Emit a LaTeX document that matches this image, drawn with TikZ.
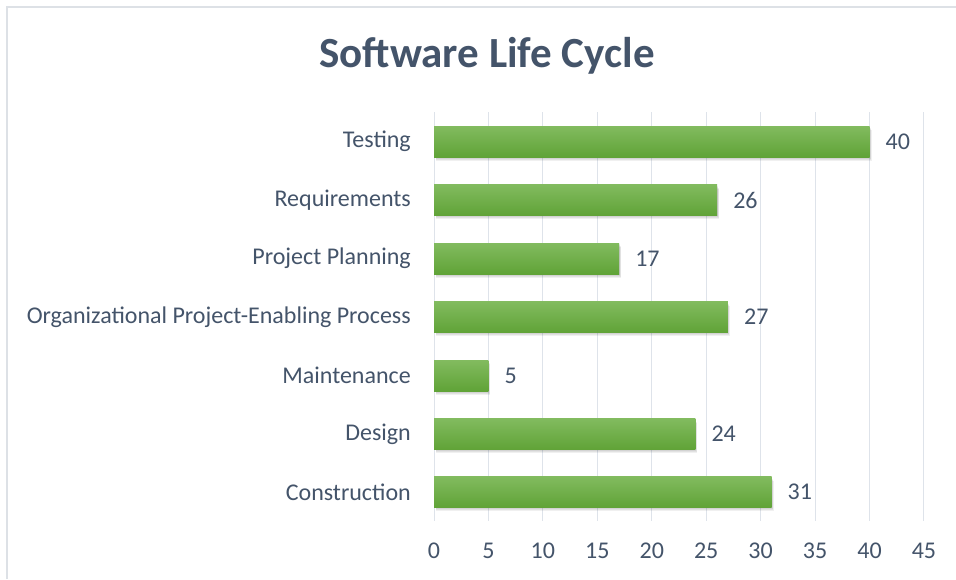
\documentclass[tikz,border=0pt]{standalone}
\usepackage{fontspec}
\setmainfont{Carlito}
\begin{document}
\begin{tikzpicture}[x=1pt,y=-1pt,
  txt/.style={text=textc, font=\fontsize{24}{26}\selectfont, inner sep=0pt},
  grid/.style={draw=gridc, line width=1pt},
  bar/.style={top color=bartop, bottom color=barbot, draw=none},
  shade/.style={fill=black, opacity=0.06}]
\definecolor{textc}{HTML}{44546A}
\definecolor{gridc}{HTML}{DEE3EA}
\definecolor{bartop}{HTML}{82BB5F}
\definecolor{barbot}{HTML}{60A337}
\definecolor{framec}{HTML}{DDE1E6}
\useasboundingbox (0,0) rectangle (956,579);
\fill[white] (0,0) rectangle (956,579);
\draw[framec, line width=1.5pt] (7,579) -- (7,7) -- (956,7);
\node[text=textc, font=\bfseries\fontsize{43}{45}\selectfont, inner sep=0pt] (title) at (487,56) {Software Life Cycle};
% gridlines and ticks
\foreach \v [count=\i] in {0,5,...,45} {
  \draw[grid] ({434+\v*10.888},112) -- ({434+\v*10.888},521);
  \node[txt] (tick\i) at ({434+\v*10.888},551) {\v};
}
% bars
\foreach \lab/\val/\cy [count=\i] in {Testing/40/141.5, Requirements/26/200, Project Planning/17/258.5, Organizational Project-Enabling Process/27/317, Maintenance/5/375.5, Design/24/434, Construction/31/492} {
  \foreach \d in {1,2,3,4} {
    \fill[shade] ({435+\d*0.3},{\cy-15.5+\d}) rectangle ({434+\val*10.888+\d*0.5},{\cy+15.5+\d*0.9});
  }
  \path[bar] (434,{\cy-15.5}) rectangle ({434+\val*10.888},{\cy+15.5});
  \node[txt, anchor=west] (val\i) at ({434+\val*10.888+16},\cy) {\val};
  \node[txt, anchor=east] (cat\i) at (411,\cy) {\lab};
}
\end{tikzpicture}
\end{document}
